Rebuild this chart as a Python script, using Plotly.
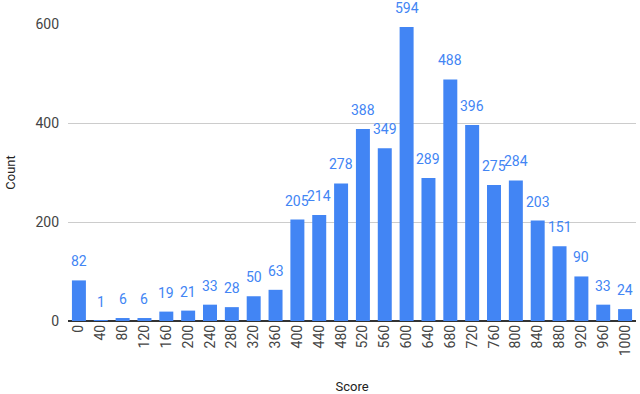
import plotly.graph_objects as go

scores = [str(s) for s in range(0, 1001, 40)]
counts = [82, 1, 6, 6, 19, 21, 33, 28, 50, 63, 205, 214, 278, 388, 349,
          594, 289, 488, 396, 275, 284, 203, 151, 90, 33, 24]

blue = "#4285F4"

fig = go.Figure(go.Bar(
    x=scores,
    y=counts,
    marker=dict(color=blue, line=dict(width=0)),
))

# value labels sit a fixed distance above each bar
# (category position by index, numeric-looking strings get misread)
for i, c in enumerate(counts):
    fig.add_annotation(x=i, y=c, text=str(c), showarrow=False,
                       yanchor="middle", yshift=19,
                       font=dict(color=blue, size=14))

fig.update_layout(
    width=640, height=394,
    margin=dict(l=68, r=4, t=24, b=73),
    plot_bgcolor="white", paper_bgcolor="white",
    font=dict(family="Roboto, Arial, sans-serif", size=14, color="#222"),
    bargap=0.36,
    showlegend=False,
    xaxis=dict(
        type="category", automargin=False,
        range=[-0.5, len(scores) - 0.5],
        title=dict(text="Score", standoff=33, font=dict(size=13, color="#222")),
        tickangle=-90, showgrid=False, showline=False, ticks="",
        tickfont=dict(size=14, color="#444"),
    ),
    yaxis=dict(
        automargin=False,
        title=dict(text="Count", standoff=16, font=dict(size=13, color="#222")),
        range=[0, 600], tickvals=[0, 200, 400, 600],
        gridcolor="#cccccc", gridwidth=1,
        zeroline=True, zerolinecolor="#333333", zerolinewidth=1.5,
        ticks="", ticklabelstandoff=8,
        tickfont=dict(size=14, color="#444"),
    ),
)

# page has a default 8px body margin; drop it so the figure sits at 0,0
fig.write_html("out.html", config={"displayModeBar": False},
               post_script="document.body.style.margin='0';")
